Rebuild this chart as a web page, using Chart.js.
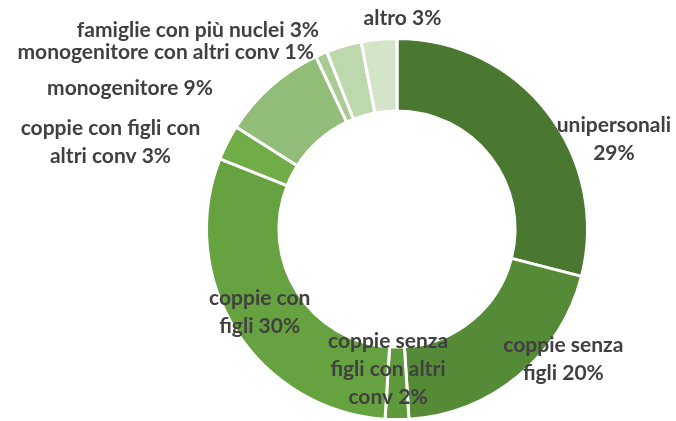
<!DOCTYPE html>
<html>
<head>
<meta charset="utf-8">
<script src="https://cdn.jsdelivr.net/npm/chart.js@4/dist/chart.umd.min.js"></script>
<style>
  html, body { margin: 0; padding: 0; background: #ffffff; }
  #wrap { width: 676px; height: 421px; position: relative; }
</style>
</head>
<body>
<div id="wrap"><canvas id="torta"></canvas></div>
<script>
// Dati: tipologie familiari (percentuali)
const categorie = [
    ['unipersonali', ''],
    ['coppie senza', 'figli'],
    ['coppie senza', 'figli con altri', 'conv'],
    ['coppie con', 'figli'],
    ['coppie con figli con', 'altri conv'],
    ['monogenitore'],
    ['monogenitore con altri conv'],
    ['famiglie con più nuclei'],
    ['altro']
];
const valori = [29, 20, 2, 30, 3, 9, 1, 3, 3];

const colori = ['#4b7830', '#558a37', '#5e9a3c', '#66a340', '#70ad47',
    '#92bd78', '#a9cc95', '#bed8ae', '#d3e4c8'];

// spostamento etichette rispetto al centro di ogni spicchio
const spostamenti = [[95, 5], [68, 11], [-9, -14], [-7, 1], [-149, -17],
    [-165, -25], [-170, -35], [-156, -51], [20, -57]];

// Plugin per le etichette dati (nome + percentuale)
const etichette = {
    id: 'etichette',
    afterDatasetsDraw(chart) {
        const ctx = chart.ctx;
        const meta = chart.getDatasetMeta(0);
        ctx.save();
        ctx.font = 'bold 21px Lato';
        ctx.fillStyle = '#404040';
        ctx.textAlign = 'center';
        ctx.textBaseline = 'middle';
        const alt = 28;
        meta.data.forEach(function (arc, i) {
            const p = arc.getCenterPoint();
            const righe = categorie[i].slice();
            const ultima = righe[righe.length - 1];
            righe[righe.length - 1] = (ultima ? ultima + ' ' : '') + valori[i] + '%';
            const x = p.x + spostamenti[i][0];
            const y0 = p.y + spostamenti[i][1] - (righe.length - 1) * alt / 2;
            righe.forEach(function (r, k) {
                ctx.fillText(r, x, y0 + k * alt);
            });
        });
        ctx.restore();
    }
};

let ctx1 = document.getElementById('torta').getContext('2d');
let grafico = new Chart(ctx1, {
    type: 'doughnut',
    data: {
        labels: categorie.map(function (c) { return c.join(' ').trim(); }),
        datasets: [{
            data: valori,
            backgroundColor: colori,
            borderColor: '#ffffff',
            borderWidth: 3
        }]
    },
    options: {
        responsive: true,
        maintainAspectRatio: false,
        animation: false,
        cutout: '62%',
        layout: { padding: { left: 204, right: 86, top: 37, bottom: -2 } },
        plugins: {
            legend: { display: false },
            tooltip: { enabled: false }
        }
    },
    plugins: [etichette]
});
</script>
</body>
</html>
